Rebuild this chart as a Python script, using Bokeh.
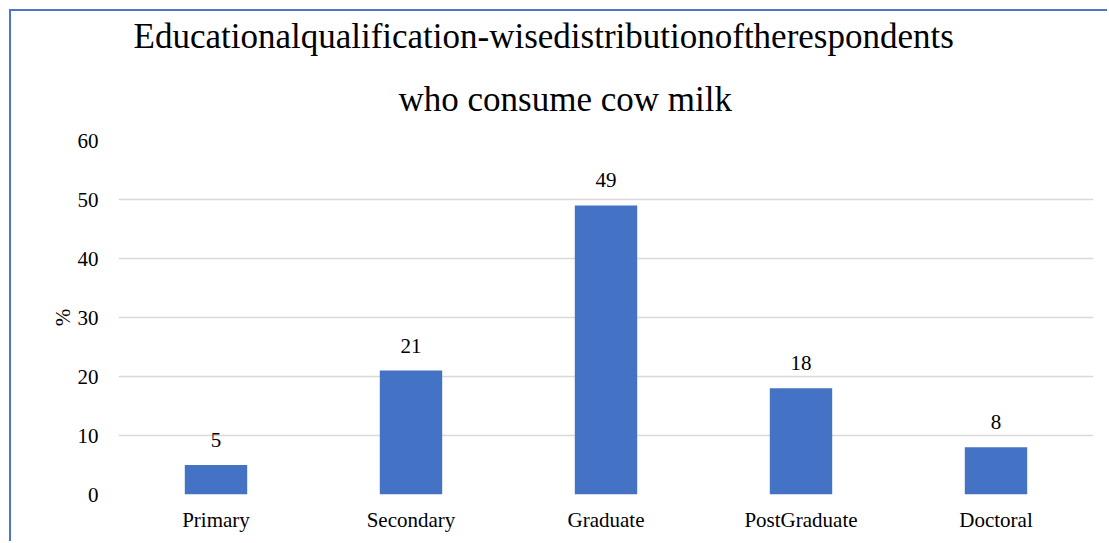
from bokeh.plotting import figure
from bokeh.models import ColumnDataSource, Title, FixedTicker, LabelSet
from bokeh.embed import file_html
from bokeh.resources import INLINE

categories = ["Primary", "Secondary", "Graduate", "PostGraduate", "Doctoral"]
values = [5, 21, 49, 18, 8]
labels = [str(v) for v in values]
y_ticks = [0, 10, 20, 30, 40, 50, 60]

FONT = "Liberation Serif"
BLUE = "#4472C4"

src = ColumnDataSource(dict(cat=categories, val=values, lab=labels))

p = figure(x_range=categories, y_range=(0, 60), width=1098, height=532,
           output_backend="svg", toolbar_location=None,
           min_border_left=107, min_border_right=16,
           min_border_top=129, min_border_bottom=49)
p.margin = (9, 0, 0, 9)
p.styles = {"border-top": "2px solid #4a78c8", "border-left": "2px solid #4a78c8"}

p.vbar(x="cat", top="val", width=0.32, source=src, fill_color=BLUE, line_color=None)

p.add_layout(LabelSet(x="cat", y="val", text="lab", source=src, y_offset=18,
                      text_align="center", text_baseline="bottom",
                      text_font=FONT, text_font_size="21px", text_color="#000000"))

p.outline_line_color = None
p.background_fill_color = "white"
p.border_fill_color = "white"
p.xgrid.grid_line_color = None
p.ygrid.grid_line_color = "#d9d9d9"
p.ygrid.grid_line_width = 1.5
p.yaxis.ticker = FixedTicker(ticks=y_ticks)

for ax in (p.xaxis[0], p.yaxis[0]):
    ax.axis_line_color = None
    ax.major_tick_line_color = None
    ax.minor_tick_line_color = None
    ax.major_label_text_font = FONT
    ax.major_label_text_font_size = "21px"
    ax.major_label_text_color = "#000000"
    ax.axis_label_text_font = FONT
    ax.axis_label_text_font_size = "21px"
    ax.axis_label_text_font_style = "normal"
    ax.axis_label_text_color = "#000000"
p.yaxis.major_label_standoff = 14
p.xaxis.major_label_standoff = 7
p.yaxis.axis_label = "%"
p.yaxis.axis_label_standoff = 0

t2 = Title(text="who consume cow milk", align="left", text_font=FONT,
           text_font_size="35px", text_font_style="normal", text_color="#000000",
           offset=280, standoff=44)
t1 = Title(text="Educationalqualification-wisedistributionoftherespondents", align="left",
           text_font=FONT, text_font_size="35px", text_font_style="normal",
           text_color="#000000", offset=15, standoff=0)
p.add_layout(t2, "above")
p.add_layout(t1, "above")

open("out.html", "w").write(file_html(p, INLINE))
